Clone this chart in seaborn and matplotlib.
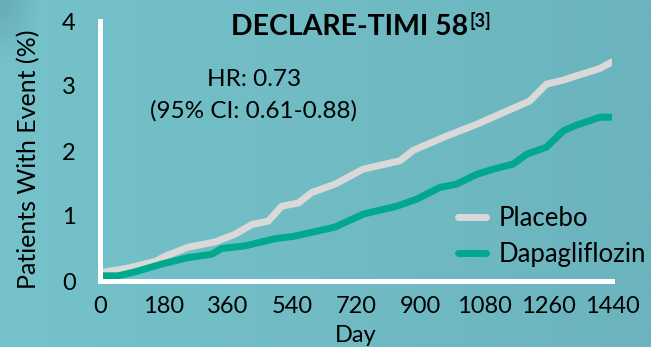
import numpy as np
import pandas as pd
import matplotlib
matplotlib.use("Agg")
import matplotlib.pyplot as plt
from matplotlib.colors import LinearSegmentedColormap
from matplotlib.lines import Line2D
import seaborn as sns

# Cumulative incidence (%) by study day for each arm
placebo_day = [0, 14, 80, 155, 183, 248, 323, 380, 427, 473, 511, 558, 595, 661,
               740, 844, 881, 975, 1059, 1134, 1209, 1256, 1303, 1336, 1406, 1440]
placebo_pct = [0.10, 0.14, 0.20, 0.30, 0.38, 0.52, 0.60, 0.72, 0.87, 0.92, 1.15,
               1.20, 1.36, 1.49, 1.72, 1.85, 2.01, 2.23, 2.41, 2.59, 2.77, 3.03,
               3.09, 3.15, 3.27, 3.37]

dapa_day = [0, 51, 98, 173, 248, 314, 342, 408, 492, 548, 661, 741, 834, 891,
            956, 1003, 1059, 1106, 1162, 1200, 1256, 1303, 1336, 1406, 1440]
dapa_pct = [0.08, 0.08, 0.14, 0.26, 0.36, 0.41, 0.50, 0.54, 0.65, 0.69, 0.83,
            1.03, 1.15, 1.26, 1.44, 1.49, 1.64, 1.72, 1.80, 1.95, 2.06, 2.31,
            2.39, 2.52, 2.52]

series_names = ["Placebo", "Dapagliflozin"]
series_colors = ["#D9D9D9", "#00A88E"]
x_ticks = [0, 180, 360, 540, 720, 900, 1080, 1260, 1440]
y_ticks = [0, 1, 2, 3, 4]

title = "DECLARE-TIMI 58"
title_ref = "[3]"
hr_line = "HR: 0.73"
ci_line = "(95% CI: 0.61-0.88)"

sns.set_theme(style="white")
plt.rcParams["font.family"] = ["Lato", "DejaVu Sans"]
plt.rcParams["text.color"] = "black"

W, H = 651, 347
fig = plt.figure(figsize=(W / 100, H / 100), dpi=100)

# soft teal gradient backdrop with a faint shadow in the top-left corner
bg = fig.add_axes([0, 0, 1, 1], zorder=-10)
grad = np.linspace(0, 1, 256)[None, :]
cmap = LinearSegmentedColormap.from_list("bg", ["#75C2CB", "#6BB4BD"])
bg.imshow(grad, aspect="auto", cmap=cmap, extent=[0, 1, 0, 1])
yy, xx = np.mgrid[0:H, 0:W]
dist = np.hypot(xx / 40.0, yy / 60.0)
shade = np.zeros((H, W, 4))
shade[..., :3] = np.array([0.30, 0.50, 0.58])
shade[..., 3] = 0.35 * np.clip(1 - dist, 0, 1)
bg.imshow(shade, aspect="auto", extent=[0, 1, 0, 1], origin="upper")
bg.set_xlim(0, 1)
bg.set_ylim(0, 1)
bg.axis("off")

ax = fig.add_axes([100 / W, 66 / H, 512 / W, 260 / H])
ax.patch.set_alpha(0)

df = pd.concat([
    pd.DataFrame({"Day": placebo_day, "Pct": placebo_pct, "Arm": series_names[0]}),
    pd.DataFrame({"Day": dapa_day, "Pct": dapa_pct, "Arm": series_names[1]}),
])
palette = dict(zip(series_names, series_colors))
sns.lineplot(data=df, x="Day", y="Pct", hue="Arm", hue_order=series_names,
             palette=palette, linewidth=5, estimator=None, sort=False,
             legend=False, ax=ax)
for ln in ax.lines:
    ln.set_solid_capstyle("round")

ax.set_xlim(0, 1440)
ax.set_ylim(0, 4)
ax.set_xticks(x_ticks)
ax.set_yticks(y_ticks)
ax.set_xticklabels([str(v) for v in x_ticks])
ax.set_yticklabels([str(v) for v in y_ticks])

for side in ["top", "right"]:
    ax.spines[side].set_visible(False)
for side in ["left", "bottom"]:
    ax.spines[side].set_color("white")
    ax.spines[side].set_linewidth(3.6)

ax.tick_params(axis="both", direction="out", length=6.5, width=3.6,
               color="white", labelcolor="black", labelsize=17)
ax.tick_params(axis="y", pad=11)
ax.tick_params(axis="x", pad=4)

ax.set_xlabel("Day", fontsize=17, color="black", va="top")
ax.xaxis.set_label_coords(0.5, -0.17)
ax.set_ylabel("Patients With Event (%)", fontsize=18, color="black")
ax.yaxis.set_label_coords(-0.117, 0.47)

handles = [Line2D([0], [0], color=c, lw=5) for c in series_colors]
ax.legend(handles, series_names, loc="upper left",
          bbox_to_anchor=(458 / W, 1 - 206 / H), bbox_transform=fig.transFigure,
          frameon=False, fontsize=18.5, handlelength=1.1, handletextpad=0.5,
          labelspacing=0.42, borderpad=0, borderaxespad=0)

t = fig.text(231 / W, 1 - 35 / H, title, ha="left", va="baseline",
             fontsize=20.5, fontweight="bold")
fig.canvas.draw()
bb = t.get_window_extent()
fig.text((bb.x1 + 1) / W, 1 - 27 / H, title_ref, ha="left", va="baseline",
         fontsize=13, fontweight="bold")

fig.text(254 / W, 1 - 86 / H, hr_line, ha="center", va="baseline", fontsize=17.5)
fig.text(254 / W, 1 - 118 / H, ci_line, ha="center", va="baseline", fontsize=17.5)

fig.savefig("out.png", dpi=100)
